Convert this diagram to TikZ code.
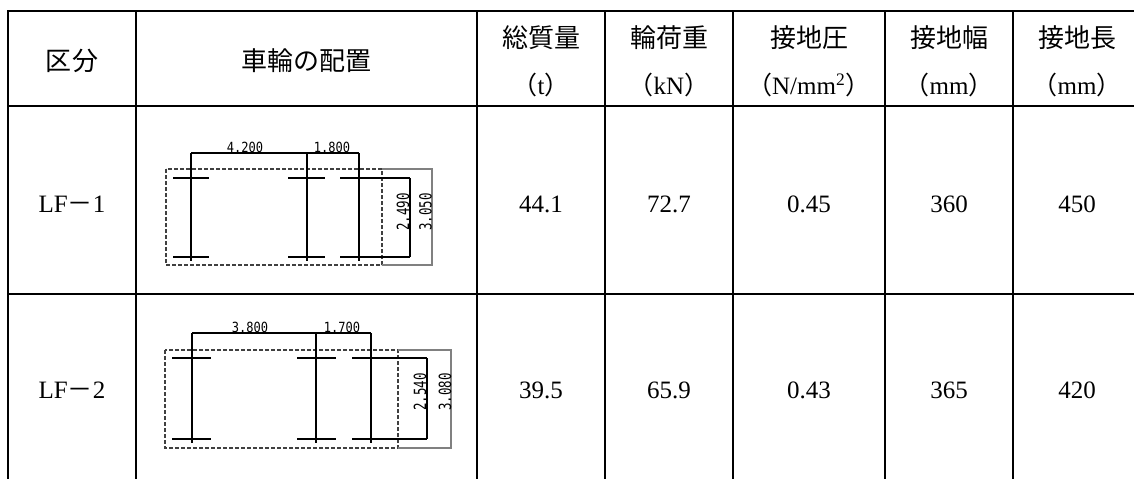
\documentclass[tikz,border=0pt]{standalone}
\usepackage{fontspec}
\setmainfont{Liberation Serif}
\newfontfamily\cjk{Noto Sans CJK JP}
\newfontfamily\dimfont{DejaVu Sans Mono}
\newcommand{\lpar}{{\cjk （}}
\newcommand{\rpar}{{\cjk ）}}
\newcommand{\dimh}[1]{\scalebox{0.86}[1]{#1}}
\newcommand{\dimv}[1]{\scalebox{0.74}[1]{#1}}
\begin{document}
\begin{tikzpicture}[x=0.5pt,y=-0.5pt,
  grid/.style={line width=1.2pt,line cap=rect},
  hdr/.style={font=\cjk\fontsize{13}{15}\selectfont,inner sep=0pt},
  unit/.style={font=\fontsize{12.5}{14}\selectfont,inner sep=0pt},
  val/.style={font=\fontsize{12.5}{14}\selectfont,inner sep=0pt},
  axle/.style={line width=0.55pt,black},
  outline/.style={line width=0.55pt,black!75,dash pattern=on 2pt off 1pt},
  dimgray/.style={line width=0.55pt,black!50},
  dimtxt/.style={font=\dimfont\fontsize{7}{7}\selectfont,inner sep=0pt},
  dimtxtv/.style={font=\dimfont\fontsize{8.4}{8.4}\selectfont,inner sep=0pt,rotate=90}]
\useasboundingbox (0,0) rectangle (1134,478);
\fill[white] (0,0) rectangle (1134,478);

% table grid
\draw[grid] (8,11) -- (1134,11);
\draw[grid] (8,106) -- (1134,106);
\draw[grid] (8,294) -- (1134,294);
\foreach \x in {8,136,477,605,733,885,1013}
  \draw[grid] (\x,11) -- (\x,478);

% header
\node[hdr] (h1) at (72,61) {区分};
\node[hdr] (h2) at (306,61) {車輪の配置};
\node[hdr] (h3) at (541,38) {総質量};
\node[unit] (u3) at (541,85) {\lpar t\rpar};
\node[hdr] (h4) at (669,38) {輪荷重};
\node[unit] (u4) at (669,85) {\lpar kN\rpar};
\node[hdr] (h5) at (809,38) {接地圧};
\node[unit] (u5) at (809,85) {\lpar N/mm\textsuperscript{2}\rpar};
\node[hdr] (h6) at (949,38) {接地幅};
\node[unit] (u6) at (949,85) {\lpar mm\rpar};
\node[hdr] (h7) at (1077,38) {接地長};
\node[unit] (u7) at (1077,85) {\lpar mm\rpar};

% row 1 values
\node[val] (r1c1) at (72,204) {LF{\cjk －}1};
\node[val] (r1c3) at (541,204) {44.1};
\node[val] (r1c4) at (669,204) {72.7};
\node[val] (r1c5) at (809,204) {0.45};
\node[val] (r1c6) at (949,204) {360};
\node[val] (r1c7) at (1077,204) {450};

% row 2 values
\node[val] (r2c1) at (72,390) {LF{\cjk －}2};
\node[val] (r2c3) at (541,390) {39.5};
\node[val] (r2c4) at (669,390) {65.9};
\node[val] (r2c5) at (809,390) {0.43};
\node[val] (r2c6) at (949,390) {365};
\node[val] (r2c7) at (1077,390) {420};

% ---- wheel layout LF-1 ----
\draw[outline] (166,169) rectangle (382,265);
\draw[dimgray] (382,169) -- (432,169) -- (432,265) -- (382,265);
\draw[axle] (191,153) -- (359,153);
\foreach \x in {191,307,359} \draw[axle] (\x,153) -- (\x,261);
\foreach \y in {178,257} {
  \draw[axle] (173,\y) -- (209,\y);
  \draw[axle] (288,\y) -- (325,\y);
  \draw[axle] (340,\y) -- (410,\y);
}
\draw[axle] (410,178) -- (410,257);
\node[dimtxt] (a1) at (245,147.5) {\dimh{4.200}};
\node[dimtxt] (a2) at (332,147.5) {\dimh{1.800}};
\node[dimtxtv] (a3) at (403,212) {\dimv{2.490}};
\node[dimtxtv] (a4) at (425.5,212) {\dimv{3.050}};

% ---- wheel layout LF-2 ----
\draw[outline] (165,350) rectangle (398,448);
\draw[dimgray] (398,350) -- (451,350) -- (451,448) -- (398,448);
\draw[axle] (192,333) -- (371,333);
\foreach \x in {192,316,371} \draw[axle] (\x,333) -- (\x,443);
\foreach \y in {358,439} {
  \draw[axle] (172,\y) -- (211,\y);
  \draw[axle] (297,\y) -- (336,\y);
  \draw[axle] (352,\y) -- (427,\y);
}
\draw[axle] (427,358) -- (427,439);
\node[dimtxt] (b1) at (250,327.5) {\dimh{3.800}};
\node[dimtxt] (b2) at (342,327.5) {\dimh{1.700}};
\node[dimtxtv] (b3) at (420,392) {\dimv{2.540}};
\node[dimtxtv] (b4) at (445,392) {\dimv{3.080}};
\end{tikzpicture}
\end{document}
